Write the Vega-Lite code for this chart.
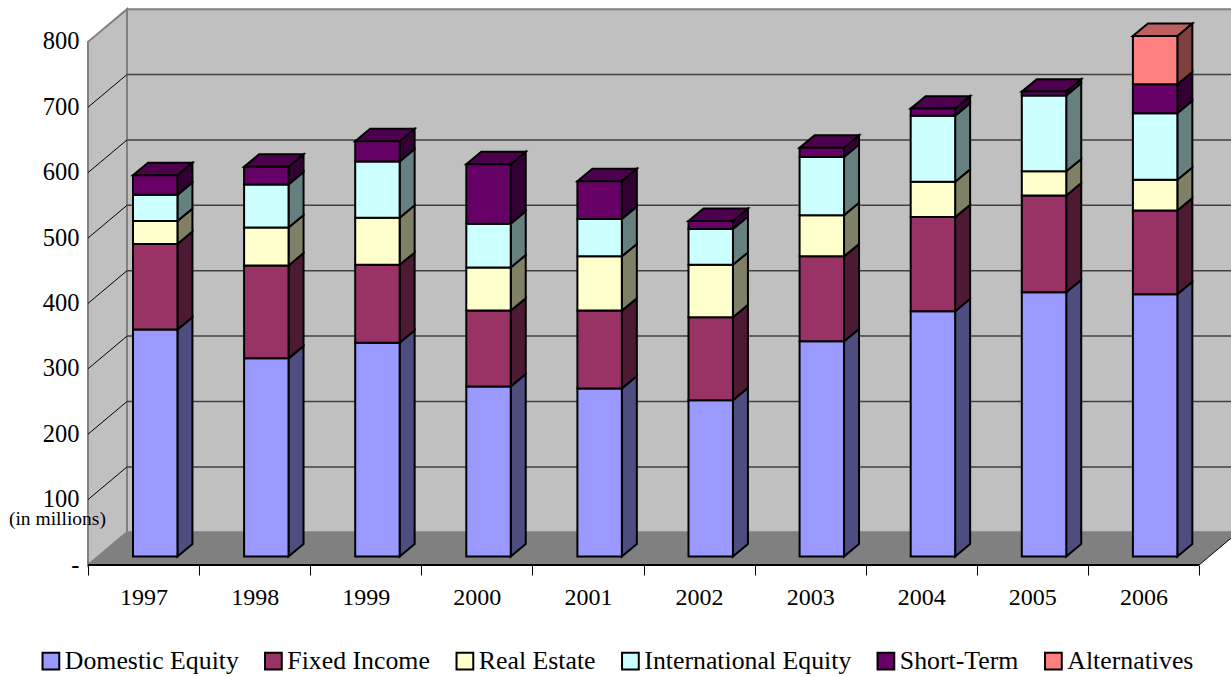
{"$schema":"https://vega.github.io/schema/vega-lite/v6.json","width":1143,"height":565,"autosize":"none","padding":{"left":88,"top":0,"right":0,"bottom":112},"background":"white","config":{"view":{"stroke":null},"font":"Liberation Serif"},
"datasets":{"bars":[
{"year":1997,"series":"Domestic Equity","value":347},{"year":1997,"series":"Fixed Income","value":131},{"year":1997,"series":"Real Estate","value":35},{"year":1997,"series":"International Equity","value":40},{"year":1997,"series":"Short-Term","value":30},
{"year":1998,"series":"Domestic Equity","value":303},{"year":1998,"series":"Fixed Income","value":142},{"year":1998,"series":"Real Estate","value":58},{"year":1998,"series":"International Equity","value":66},{"year":1998,"series":"Short-Term","value":27},
{"year":1999,"series":"Domestic Equity","value":327},{"year":1999,"series":"Fixed Income","value":119},{"year":1999,"series":"Real Estate","value":72},{"year":1999,"series":"International Equity","value":86},{"year":1999,"series":"Short-Term","value":31},
{"year":2000,"series":"Domestic Equity","value":260},{"year":2000,"series":"Fixed Income","value":116},{"year":2000,"series":"Real Estate","value":66},{"year":2000,"series":"International Equity","value":67},{"year":2000,"series":"Short-Term","value":91},
{"year":2001,"series":"Domestic Equity","value":257},{"year":2001,"series":"Fixed Income","value":119},{"year":2001,"series":"Real Estate","value":83},{"year":2001,"series":"International Equity","value":57},{"year":2001,"series":"Short-Term","value":58},
{"year":2002,"series":"Domestic Equity","value":239},{"year":2002,"series":"Fixed Income","value":127},{"year":2002,"series":"Real Estate","value":80},{"year":2002,"series":"International Equity","value":55},{"year":2002,"series":"Short-Term","value":12},
{"year":2003,"series":"Domestic Equity","value":329},{"year":2003,"series":"Fixed Income","value":130},{"year":2003,"series":"Real Estate","value":63},{"year":2003,"series":"International Equity","value":89},{"year":2003,"series":"Short-Term","value":14},
{"year":2004,"series":"Domestic Equity","value":375},{"year":2004,"series":"Fixed Income","value":144},{"year":2004,"series":"Real Estate","value":54},{"year":2004,"series":"International Equity","value":101},{"year":2004,"series":"Short-Term","value":11},
{"year":2005,"series":"Domestic Equity","value":404},{"year":2005,"series":"Fixed Income","value":148},{"year":2005,"series":"Real Estate","value":37},{"year":2005,"series":"International Equity","value":116},{"year":2005,"series":"Short-Term","value":6},
{"year":2006,"series":"Domestic Equity","value":401},{"year":2006,"series":"Fixed Income","value":128},{"year":2006,"series":"Real Estate","value":47},{"year":2006,"series":"International Equity","value":102},{"year":2006,"series":"Short-Term","value":44},{"year":2006,"series":"Alternatives","value":74}
],
"ticks":[{"tick":100},{"tick":200},{"tick":300},{"tick":400},{"tick":500},{"tick":600},{"tick":700}],
"depth":[{"t":0},{"t":1}]},
"resolve":{"scale":{"color":"independent"},"axis":{"x":"independent","y":"independent"}},
"layer":[
{"data":{"name":"depth"},"transform":[{"calculate":"0.351*datum.t","as":"x"},{"calculate":"50*datum.t","as":"y"},{"calculate":"800+50*datum.t","as":"y2"}],
"mark":{"type":"area","orient":"vertical","fill":"#C0C0C0","stroke":"#808080","strokeWidth":2},
"encoding":{"x":{"field":"x","type":"quantitative","scale":{"domain":[0,10.288],"nice":false,"zero":false},"axis":null},
"y":{"field":"y","type":"quantitative","scale":{"domain":[0,864],"nice":false},"axis":{"orient":"left","title":null,"values":[0,100,200,300,400,500,600,700,800],"labelExpr":"datum.value==0?'-':datum.label","tickSize":0,"domain":false,"grid":false,"labelPadding":9,"labelFontSize":24.5,"labelColor":"black","labelFont":"Liberation Serif"}},
"y2":{"field":"y2"}}},
{"data":{"values":[{"wall":"back"}]},"mark":{"type":"rect","fill":"#C0C0C0","stroke":"#808080","strokeWidth":2,"clip":true},
"encoding":{"x":{"datum":0.351,"type":"quantitative","scale":{"domain":[0,10.288],"nice":false,"zero":false},"axis":null},"x2":{"datum":10.351},"y":{"datum":50,"type":"quantitative","scale":{"domain":[0,864],"nice":false},"axis":null},"y2":{"datum":850}}},
{"data":{"values":[{"t":0},{"t":1},{"t":2},{"t":3}]},"transform":[{"calculate":"[0,0.351,10,10.351][datum.t]","as":"x"},{"calculate":"[0,0,0,50][datum.t]","as":"y"},{"calculate":"[0,50,50,50][datum.t]","as":"y2"}],
"mark":{"type":"area","orient":"vertical","fill":"#808080","clip":true},
"encoding":{"x":{"field":"x","type":"quantitative","scale":{"domain":[0,10.288],"nice":false,"zero":false},"axis":null},"y":{"field":"y","type":"quantitative","scale":{"domain":[0,864],"nice":false},"axis":null},"y2":{"field":"y2"}}},
{"data":{"name":"ticks"},"transform":[{"calculate":"datum.tick+50","as":"back"}],"mark":{"type":"rule","stroke":"#404040","strokeWidth":1.5,"clip":true},
"encoding":{"x":{"datum":0.351,"type":"quantitative","scale":{"domain":[0,10.288],"nice":false,"zero":false},"axis":null},"x2":{"datum":10.351},"y":{"field":"back","type":"quantitative","scale":{"domain":[0,864],"nice":false},"axis":null}}},
{"data":{"name":"ticks"},"transform":[{"calculate":"[0,1]","as":"t"},{"flatten":["t"]},{"calculate":"0.351*datum.t","as":"x"},{"calculate":"datum.tick+50*datum.t","as":"y"}],"mark":{"type":"line","stroke":"black","strokeWidth":1},
"encoding":{"x":{"field":"x","type":"quantitative","scale":{"domain":[0,10.288],"nice":false,"zero":false},"axis":null},"y":{"field":"y","type":"quantitative","scale":{"domain":[0,864],"nice":false},"axis":null},"detail":{"field":"tick"}}},
{"data":{"name":"depth"},"transform":[{"calculate":"10+0.351*datum.t","as":"x"},{"calculate":"50*datum.t","as":"y"}],"mark":{"type":"line","stroke":"black","strokeWidth":1,"clip":true},
"encoding":{"x":{"field":"x","type":"quantitative","scale":{"domain":[0,10.288],"nice":false,"zero":false},"axis":null},"y":{"field":"y","type":"quantitative","scale":{"domain":[0,864],"nice":false},"axis":null}}},
{"data":{"name":"bars"},"transform":[{"stack":"value","groupby":["year"],"as":["lo","hi"]},{"calculate":"[0,1]","as":"t"},{"flatten":["t"]},{"calculate":"datum.year-1997+0.805+0.135*datum.t","as":"x"},{"calculate":"13+datum.lo+19*datum.t","as":"y"},{"calculate":"13+datum.hi+19*datum.t","as":"y2"}],
"mark":{"type":"area","orient":"vertical","stroke":"black","strokeWidth":2,"strokeJoin":"miter"},
"encoding":{"x":{"field":"x","type":"quantitative","scale":{"domain":[0,10.288],"nice":false,"zero":false},"axis":null},"y":{"field":"y","type":"quantitative","scale":{"domain":[0,864],"nice":false},"axis":null},"y2":{"field":"y2"},"detail":{"field":"year"},
"color":{"field":"series","type":"nominal","legend":null,"scale":{"domain":["Domestic Equity","Fixed Income","Real Estate","International Equity","Short-Term","Alternatives"],"range":["#4D4D80","#4D1A33","#808066","#668080","#330033","#804040"]}}}},
{"data":{"name":"bars"},"transform":[{"stack":"value","groupby":["year"],"as":["lo","hi"]},{"joinaggregate":[{"op":"max","field":"hi","as":"top"}],"groupby":["year"]},{"filter":"datum.hi==datum.top"},{"calculate":"[0,1,2,3]","as":"t"},{"flatten":["t"]},{"calculate":"datum.year-1997+0.405+[0,0.135,0.4,0.535][datum.t]","as":"x"},{"calculate":"13+datum.hi+[0,0,0,19][datum.t]","as":"y"},{"calculate":"13+datum.hi+[0,19,19,19][datum.t]","as":"y2"}],
"mark":{"type":"area","orient":"vertical","stroke":"black","strokeWidth":2,"strokeJoin":"miter"},
"encoding":{"x":{"field":"x","type":"quantitative","scale":{"domain":[0,10.288],"nice":false,"zero":false},"axis":null},"y":{"field":"y","type":"quantitative","scale":{"domain":[0,864],"nice":false},"axis":null},"y2":{"field":"y2"},"detail":{"field":"year"},
"color":{"field":"series","type":"nominal","legend":null,"scale":{"domain":["Domestic Equity","Fixed Income","Real Estate","International Equity","Short-Term","Alternatives"],"range":["#7373BF","#73264D","#BFBF99","#99BFBF","#4D004D","#BF6060"]}}}},
{"data":{"name":"bars"},"transform":[{"stack":"value","groupby":["year"],"as":["lo","hi"]},{"calculate":"datum.year-1997+0.405","as":"x"},{"calculate":"datum.year-1997+0.805","as":"x2"},{"calculate":"13+datum.lo","as":"y"},{"calculate":"13+datum.hi","as":"y2"}],
"mark":{"type":"rect","stroke":"black","strokeWidth":2},
"encoding":{"x":{"field":"x","type":"quantitative","scale":{"domain":[0,10.288],"nice":false,"zero":false},"axis":null},"x2":{"field":"x2"},"y":{"field":"y","type":"quantitative","scale":{"domain":[0,864],"nice":false},"axis":null},"y2":{"field":"y2"},
"color":{"field":"series","type":"nominal","title":null,"scale":{"domain":["Domestic Equity","Fixed Income","Real Estate","International Equity","Short-Term","Alternatives"],"range":["#9999FF","#993366","#FFFFCC","#CCFFFF","#660066","#FF8080"]},
"legend":{"orient":"none","legendX":-50,"legendY":648,"direction":"horizontal","columns":6,"symbolType":"square","symbolSize":280,"symbolStrokeColor":"black","symbolStrokeWidth":2,"symbolOpacity":1,"labelFontSize":25.8,"labelFont":"Liberation Serif","labelColor":"black","labelOffset":1,"columnPadding":21.5,"labelLimit":400}}}},
{"data":{"values":[{"axis":"x"}]},"mark":{"type":"rule","stroke":"black","strokeWidth":2},
"encoding":{"x":{"datum":0,"type":"quantitative","scale":{"domain":[0,10.288],"nice":false,"zero":false},"axis":{"orient":"bottom","title":null,"values":[0,1,2,3,4,5,6,7,8,9,10],"labels":false,"domain":false,"grid":false,"tickSize":10,"tickColor":"black","tickWidth":1}},"x2":{"datum":10},"y":{"datum":0,"type":"quantitative","scale":{"domain":[0,864],"nice":false},"axis":null}}},
{"data":{"values":[{"label":"(in millions)"}]},"mark":{"type":"text","fontSize":19.5,"font":"Liberation Serif","color":"black","align":"center","baseline":"middle"},
"encoding":{"x":{"datum":-0.275,"type":"quantitative","scale":{"domain":[0,10.288],"nice":false,"zero":false},"axis":{"orient":"bottom","title":null,"values":[0.5,1.5,2.5,3.5,4.5,5.5,6.5,7.5,8.5,9.5],"labelExpr":"''+(1997+floor(datum.value))","domain":false,"grid":false,"tickSize":0,"labelPadding":20,"labelFontSize":24,"labelColor":"black","labelFont":"Liberation Serif"}},"y":{"datum":71,"type":"quantitative","scale":{"domain":[0,864],"nice":false},"axis":null},"text":{"field":"label"}}}
]}
